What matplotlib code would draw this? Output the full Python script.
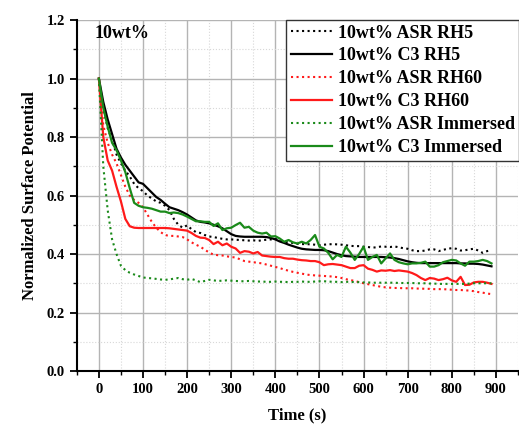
import numpy as np
import matplotlib
matplotlib.use("Agg")
import matplotlib.pyplot as plt
from matplotlib.ticker import MultipleLocator

time_s = list(range(0, 900, 10))

asr_rh5 = [1.0, 0.90, 0.83, 0.79, 0.74, 0.71, 0.685, 0.665, 0.64, 0.625,
           0.615, 0.60, 0.59, 0.58, 0.575, 0.565, 0.55, 0.52, 0.50, 0.49,
           0.498, 0.485, 0.475, 0.472, 0.465, 0.46, 0.458, 0.455, 0.452, 0.45,
           0.45, 0.449, 0.448, 0.447, 0.446, 0.447, 0.445, 0.447, 0.449, 0.45,
           0.452, 0.445, 0.442, 0.44, 0.438, 0.435, 0.434, 0.434, 0.433, 0.432,
           0.43, 0.432, 0.433, 0.434, 0.433, 0.432, 0.43, 0.428, 0.427, 0.427,
           0.425, 0.424, 0.422, 0.423, 0.426, 0.425, 0.424, 0.426, 0.423, 0.42,
           0.418, 0.413, 0.41, 0.41, 0.412, 0.416, 0.416, 0.41, 0.414, 0.418,
           0.42, 0.418, 0.412, 0.413, 0.416, 0.418, 0.412, 0.404, 0.41, 0.413]

c3_rh5 = [1.0, 0.92, 0.86, 0.81, 0.76, 0.73, 0.705, 0.685, 0.665, 0.645,
          0.64, 0.625, 0.61, 0.595, 0.585, 0.572, 0.56, 0.555, 0.55, 0.543,
          0.535, 0.525, 0.515, 0.51, 0.508, 0.505, 0.5, 0.495, 0.488, 0.478,
          0.468, 0.462, 0.46, 0.459, 0.459, 0.459, 0.459, 0.459, 0.458, 0.455,
          0.45, 0.443, 0.438, 0.432, 0.427, 0.422, 0.418, 0.416, 0.415, 0.414,
          0.414, 0.413, 0.41, 0.405, 0.4, 0.396, 0.393, 0.392, 0.391, 0.39,
          0.39, 0.39, 0.39, 0.39, 0.39, 0.389, 0.388, 0.386, 0.383, 0.379,
          0.375, 0.372, 0.37, 0.369, 0.369, 0.369, 0.369, 0.369, 0.369, 0.369,
          0.369, 0.369, 0.368, 0.368, 0.367, 0.367, 0.366, 0.364, 0.361, 0.358]

asr_rh60 = [1.0, 0.84, 0.78, 0.74, 0.71, 0.67, 0.63, 0.60, 0.585, 0.575,
            0.56, 0.535, 0.51, 0.49, 0.475, 0.465, 0.462, 0.462, 0.46, 0.458,
            0.45, 0.44, 0.432, 0.425, 0.415, 0.405, 0.398, 0.396, 0.395, 0.392,
            0.39, 0.388, 0.382, 0.376, 0.374, 0.372, 0.37, 0.368, 0.364, 0.36,
            0.356, 0.352, 0.347, 0.343, 0.339, 0.336, 0.333, 0.33, 0.328, 0.327,
            0.326, 0.325, 0.324, 0.323, 0.321, 0.318, 0.314, 0.311, 0.308, 0.304,
            0.30, 0.297, 0.294, 0.291, 0.288, 0.286, 0.285, 0.284, 0.284, 0.283,
            0.283, 0.283, 0.282, 0.282, 0.281, 0.281, 0.28, 0.28, 0.28, 0.279,
            0.278, 0.277, 0.277, 0.276, 0.275, 0.273, 0.27, 0.268, 0.265, 0.263]

c3_rh60 = [1.0, 0.80, 0.72, 0.685, 0.63, 0.58, 0.52, 0.495, 0.49, 0.489,
           0.489, 0.489, 0.489, 0.489, 0.489, 0.489, 0.488, 0.486, 0.484, 0.482,
           0.48, 0.472, 0.462, 0.456, 0.455, 0.448, 0.434, 0.442, 0.43, 0.436,
           0.425, 0.419, 0.404, 0.41, 0.408, 0.402, 0.407, 0.395, 0.393, 0.391,
           0.39, 0.39, 0.386, 0.384, 0.384, 0.381, 0.379, 0.378, 0.376, 0.376,
           0.372, 0.362, 0.365, 0.366, 0.364, 0.362, 0.357, 0.352, 0.352, 0.36,
           0.362, 0.35, 0.346, 0.34, 0.344, 0.343, 0.345, 0.342, 0.344, 0.342,
           0.34, 0.335, 0.328, 0.318, 0.311, 0.318, 0.316, 0.311, 0.314, 0.319,
           0.31, 0.305, 0.322, 0.294, 0.295, 0.303, 0.305, 0.305, 0.302, 0.298]

asr_imm = [1.0, 0.70, 0.55, 0.45, 0.40, 0.36, 0.345, 0.336, 0.33, 0.325,
           0.32, 0.318, 0.317, 0.315, 0.313, 0.312, 0.313, 0.316, 0.318, 0.314,
           0.312, 0.315, 0.31, 0.304, 0.308, 0.312, 0.31, 0.308, 0.309, 0.31,
           0.309, 0.308, 0.307, 0.307, 0.308, 0.307, 0.306, 0.306, 0.305, 0.305,
           0.306, 0.305, 0.305, 0.304, 0.305, 0.305, 0.306, 0.305, 0.305, 0.306,
           0.307, 0.307, 0.306, 0.305, 0.305, 0.304, 0.305, 0.305, 0.304, 0.304,
           0.303, 0.303, 0.302, 0.302, 0.302, 0.302, 0.302, 0.302, 0.301, 0.301,
           0.301, 0.301, 0.3, 0.3, 0.3, 0.299, 0.299, 0.298, 0.298, 0.298,
           0.298, 0.298, 0.298, 0.298, 0.299, 0.3, 0.3, 0.3, 0.3, 0.3]

c3_imm = [1.0, 0.90, 0.835, 0.78, 0.755, 0.72, 0.68, 0.625, 0.575, 0.565,
          0.56, 0.558, 0.555, 0.55, 0.545, 0.545, 0.54, 0.542, 0.54, 0.535,
          0.528, 0.52, 0.512, 0.512, 0.51, 0.51, 0.496, 0.505, 0.482, 0.488,
          0.49, 0.499, 0.507, 0.49, 0.493, 0.48, 0.473, 0.47, 0.473, 0.46,
          0.461, 0.453, 0.442, 0.448, 0.44, 0.436, 0.442, 0.436, 0.448, 0.465,
          0.425, 0.419, 0.404, 0.382, 0.397, 0.39, 0.425, 0.405, 0.38, 0.40,
          0.425, 0.38, 0.39, 0.397, 0.368, 0.385, 0.402, 0.38, 0.372, 0.368,
          0.365, 0.368, 0.368, 0.37, 0.374, 0.357, 0.357, 0.362, 0.372, 0.376,
          0.38, 0.378, 0.368, 0.36, 0.374, 0.374, 0.376, 0.38, 0.376, 0.368]

labels = ["10wt% ASR RH5", "10wt% C3 RH5", "10wt% ASR RH60",
          "10wt% C3 RH60", "10wt% ASR Immersed", "10wt% C3 Immersed"]
series = [asr_rh5, c3_rh5, asr_rh60, c3_rh60, asr_imm, c3_imm]
colors = ["black", "black", "#ff1a1a", "#ff1a1a", "#1a8a1a", "#1a8a1a"]
styles = [":", "-", ":", "-", ":", "-"]

plt.rcParams['font.family'] = ['Liberation Serif', 'DejaVu Serif']
plt.rcParams['font.weight'] = 'bold'

fig = plt.figure(figsize=(5.19, 4.26), dpi=100)
ax = fig.add_axes([0.148, 0.129, 0.85, 0.824])

for y, lab, c, ls in zip(series, labels, colors, styles):
    ax.plot(time_s, y, ls, color=c, lw=1.6 if ls == "-" else 1.5, label=lab)

ax.set_xlim(-50, 950)
ax.set_ylim(0, 1.2)
ax.xaxis.set_major_locator(MultipleLocator(100))
ax.xaxis.set_minor_locator(MultipleLocator(50))
ax.yaxis.set_major_locator(MultipleLocator(0.2))
ax.yaxis.set_minor_locator(MultipleLocator(0.1))
ax.set_xticks(np.arange(0, 901, 100))
ax.yaxis.set_major_formatter(matplotlib.ticker.FormatStrFormatter('%.1f'))

ax.grid(True, which='major', color='#b4b4b4', lw=1.0, ls='-')
ax.grid(True, which='minor', color='#d8d8d8', lw=0.8, ls=':')
ax.set_axisbelow(True)

for s in ['top', 'right']:
    ax.spines[s].set_visible(False)
for s in ['left', 'bottom']:
    ax.spines[s].set_linewidth(1.5)

ax.tick_params(axis='both', which='major', direction='out', length=5, width=1.3,
               labelsize=10.5)
ax.tick_params(axis='both', which='minor', direction='out', length=3, width=1.0)
for lab in ax.get_xticklabels() + ax.get_yticklabels():
    lab.set_fontweight('bold')

ax.set_xlabel("Time (s)", fontsize=12, fontweight='bold', labelpad=8)
ax.set_ylabel("Normalized Surface Potential", fontsize=12, fontweight='bold', labelpad=6)

ax.text(0.04, 0.985, "10wt%", transform=ax.transAxes, fontsize=13,
        fontweight='bold', va='top', ha='left')

leg = ax.legend(loc='upper right', bbox_to_anchor=(1.003, 1.0),
                prop={'weight': 'bold', 'size': 13}, frameon=True, fancybox=False,
                handlelength=2.3, handletextpad=0.3, labelspacing=0.33,
                borderpad=0.25, borderaxespad=0.0)
leg.get_frame().set_edgecolor('#333333')
leg.get_frame().set_linewidth(1.0)
leg.get_frame().set_alpha(1.0)

fig.savefig("out.png", dpi=100)
